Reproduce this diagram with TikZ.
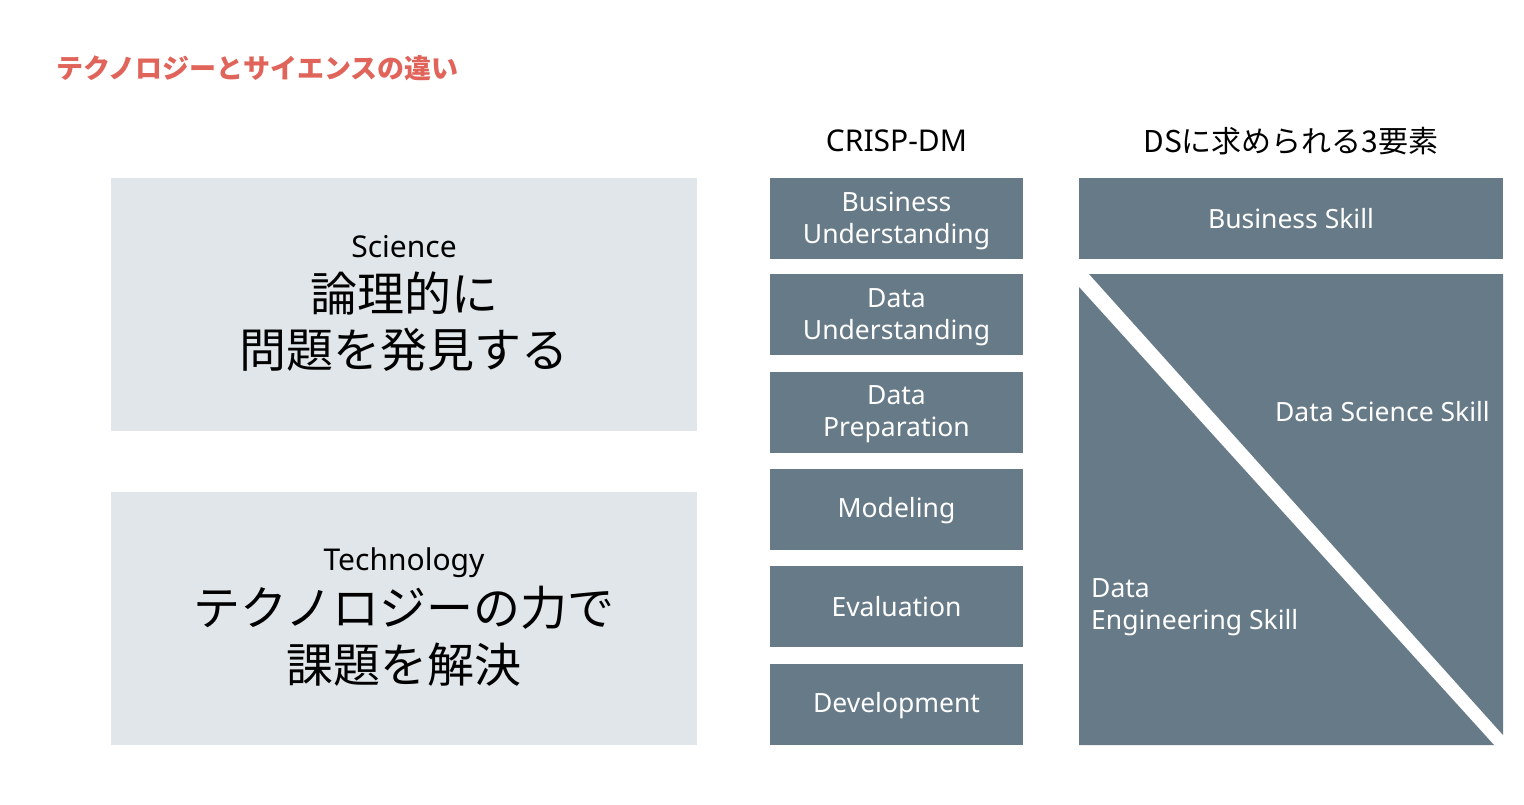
\documentclass[tikz,border=0pt]{standalone}
\usepackage{fontspec}
\setmainfont{Noto Sans}
\newfontfamily\jpfont{Noto Sans CJK JP}
\usetikzlibrary{calc}
\definecolor{slate}{HTML}{677A87}
\definecolor{mist}{HTML}{E1E6EA}
\definecolor{coral}{HTML}{E0645A}
\newcommand{\fs}[1]{\fontsize{#1}{#1}\selectfont}
\tikzset{
  lightbox/.style={fill=mist, draw=none, minimum width=586, minimum height=253, inner sep=0},
  crisp/.style={fill=slate, draw=none, minimum width=253, minimum height=81, inner sep=0},
  crisptxt/.style={text=white, inner sep=0, align=center, font=\fontsize{26.5}{32}\selectfont},
  head/.style={inner sep=0, font=\fs{30}},
  skill/.style={inner sep=0, text=white, font=\fontsize{26.5}{32}\selectfont}
}

\begin{document}
\begin{tikzpicture}[x=1pt, y=-1pt]
    \useasboundingbox (0,0) rectangle (1524,804);
    % title
    \node[anchor=west, inner sep=0, text=coral, font=\jpfont\bfseries\fs{27}] (title) at (56,68) {テクノロジーとサイエンスの違い};
    % left boxes
    \node[lightbox] (sci) at (404,304) {};
    \node[inner sep=0, font=\fs{30}] (scilbl) at (404,247) {Science};
    \node[inner sep=0, font=\jpfont\fs{47}] (sci1) at (404,293) {論理的に};
    \node[inner sep=0, font=\jpfont\fs{47}] (sci2) at (404,350) {問題を発見する};
    \node[lightbox] (tech) at (404,618.5) {};
    \node[inner sep=0, font=\fs{30}] (techlbl) at (404,563) {Technology};
    \node[inner sep=0, font=\jpfont\fs{47}] (tech1) at (404,608) {テクノロジーの力で};
    \node[inner sep=0, font=\jpfont\fs{47}] (tech2) at (404,665) {課題を解決};
    % CRISP-DM
    \node[head] (crisphd) at (896.5,141) {CRISP-DM};
    \node[crisp] (bu) at (896.5,218.5) {};
    \node[crisp] (du) at (896.5,314.5) {};
    \node[crisp] (dp) at (896.5,412) {};
    \node[crisp] (mo) at (896.5,509.5) {};
    \node[crisp] (ev) at (896.5,606.5) {};
    \node[crisp] (de) at (896.5,704.5) {};
    \node[crisptxt] (butxt) at ([yshift=-2.5pt]bu.center) {Business\\Understanding};
    \node[crisptxt] (dutxt) at ([yshift=-2.5pt]du.center) {Data\\Understanding};
    \node[crisptxt] (dptxt) at ([yshift=-2.5pt]dp.center) {Data\\Preparation};
    \node[crisptxt] (motxt) at ([yshift=-1.5pt]mo.center) {Modeling};
    \node[crisptxt] (evtxt) at (ev.center) {Evaluation};
    \node[crisptxt] (detxt) at ([yshift=-1pt]de.center) {Development};
    % DS skills
    \node[head, font=\jpfont\fs{30}] (dshd) at (1291,141) {DSに求められる3要素};
    \node[crisp, minimum width=424] (bs) at (1291,218.5) {};
    \node[crisptxt] (bstxt) at (bs.center) {Business Skill};
    \coordinate (tl) at (1079,274);
    \coordinate (br) at (1503,745);
    \fill[slate] (1089,274) -- (br |- tl) -- (1503,735) -- cycle;
    \fill[slate] (1079,287) -- (tl |- br) -- (1494,745) -- cycle;
    \node[skill, anchor=east] (dss) at (1490,412) {Data Science Skill};
    \node[skill, anchor=west, align=left] (des) at (1091,607) {Data\\Engineering Skill};
\end{tikzpicture}
\end{document}
